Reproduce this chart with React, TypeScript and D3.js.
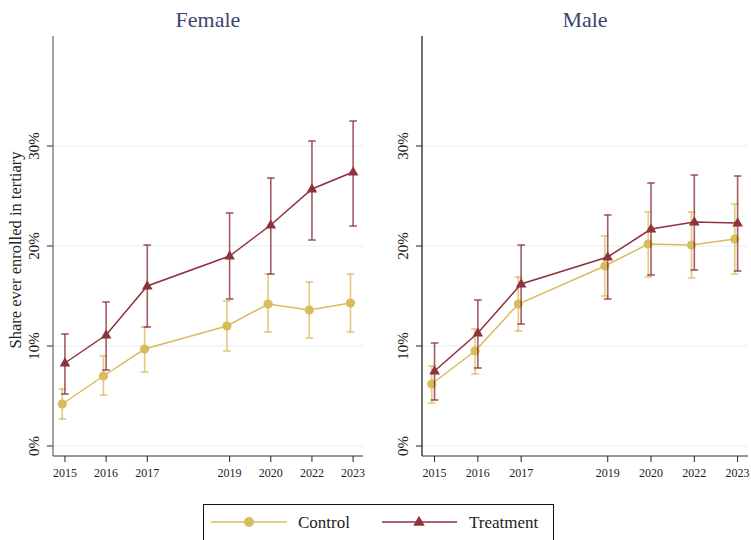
import React from "react";
import * as d3 from "d3";

const years = ["2015", "2016", "2017", "2019", "2020", "2022", "2023"];
const yearPos = [0, 1, 2, 4, 5, 6, 7];
const yTicks = [0, 10, 20, 30];

const femaleControl = [4.2, 7.0, 9.7, 12.0, 14.2, 13.6, 14.3];
const femaleControlLo = [2.7, 5.1, 7.4, 9.5, 11.4, 10.8, 11.4];
const femaleControlHi = [5.7, 9.0, 11.9, 14.5, 17.2, 16.4, 17.2];
const femaleTreat = [8.3, 11.1, 16.0, 19.0, 22.1, 25.7, 27.4];
const femaleTreatLo = [5.2, 7.6, 11.9, 14.7, 17.2, 20.6, 22.0];
const femaleTreatHi = [11.2, 14.4, 20.1, 23.3, 26.8, 30.5, 32.5];

const maleControl = [6.2, 9.5, 14.2, 18.0, 20.2, 20.1, 20.7];
const maleControlLo = [4.3, 7.2, 11.5, 15.0, 16.9, 16.8, 17.2];
const maleControlHi = [8.0, 11.7, 16.9, 21.0, 23.4, 23.4, 24.2];
const maleTreat = [7.5, 11.3, 16.2, 18.9, 21.7, 22.4, 22.3];
const maleTreatLo = [4.6, 7.8, 12.2, 14.7, 17.1, 17.6, 17.5];
const maleTreatHi = [10.3, 14.6, 20.1, 23.1, 26.3, 27.1, 27.0];

const CTRL = "#d8bd5c";
const TREAT = "#8e323b";
const FONT = "'Liberation Serif', 'DejaVu Serif', serif";

type Series = { mean: number[]; lo: number[]; hi: number[]; color: string; shape: "circle" | "triangle"; dx: number };

function Marker({ x, y, shape, color, r = 4.6 }: { x: number; y: number; shape: string; color: string; r?: number }) {
  if (shape === "circle") return <circle cx={x} cy={y} r={r} fill={color} />;
  const s = r * 2.3;
  const h = s * 0.866;
  const p = `${x},${y - h * 0.62} ${x - s / 2},${y + h * 0.38} ${x + s / 2},${y + h * 0.38}`;
  return <polygon points={p} fill={color} />;
}

function Panel({ title, x0, x1, series, axisColor }: { title: string; x0: number; x1: number; series: Series[]; axisColor: string }) {
  const x = d3.scaleLinear().domain([-0.29, 7.24]).range([x0, x1]);
  const y = d3.scaleLinear().domain([-1, 41]).range([456, 36]);
  const line = d3.line<number>();
  return (
    <g>
      <text x={(x0 + x1) / 2} y={27} textAnchor="middle" fontFamily={FONT} fontSize={22} fill="#3a4670">
        {title}
      </text>
      {yTicks.map((t) => (
        <g key={t}>
          <line x1={x0} x2={x1} y1={y(t)} y2={y(t)} stroke="#e4edf1" strokeWidth={1} />
          <line x1={x0 - 6} x2={x0} y1={y(t)} y2={y(t)} stroke="#222" strokeWidth={1} />
          <text
            transform={`translate(${x0 - 14},${y(t)}) rotate(-90)`}
            textAnchor="middle"
            fontFamily={FONT}
            fontSize={15}
            fill="#222"
          >
            {t}%
          </text>
        </g>
      ))}
      <line x1={x0} x2={x0} y1={y(41)} y2={y(-1)} stroke={axisColor} strokeWidth={1.2} />
      <line x1={x0} x2={x1} y1={y(-1)} y2={y(-1)} stroke="#333" strokeWidth={1.2} />
      {years.map((yr, i) => (
        <g key={yr}>
          <line x1={x(yearPos[i])} x2={x(yearPos[i])} y1={y(-1)} y2={y(-1) + 6} stroke="#222" strokeWidth={1} />
          <text x={x(yearPos[i])} y={477} textAnchor="middle" fontFamily={FONT} fontSize={12} fill="#222">
            {yr}
          </text>
        </g>
      ))}
      {series.map((s, si) => {
        const pts = s.mean.map((m, i) => [x(yearPos[i] + s.dx), y(m)] as [number, number]);
        return (
          <g key={si}>
            {s.mean.map((_, i) => {
              const px = x(yearPos[i] + s.dx);
              return (
                <g key={i} stroke={s.color} strokeWidth={1.6} strokeOpacity={0.8}>
                  <line x1={px} x2={px} y1={y(s.lo[i])} y2={y(s.hi[i])} />
                  <line x1={px - 3.8} x2={px + 3.8} y1={y(s.lo[i])} y2={y(s.lo[i])} />
                  <line x1={px - 3.8} x2={px + 3.8} y1={y(s.hi[i])} y2={y(s.hi[i])} />
                </g>
              );
            })}
            <path d={line(pts as any) || ""} fill="none" stroke={s.color} strokeWidth={1.5} />
            {pts.map((p, i) => (
              <Marker key={i} x={p[0]} y={p[1]} shape={s.shape} color={s.color} />
            ))}
          </g>
        );
      })}
    </g>
  );
}

export default function App() {
  const femaleSeries: Series[] = [
    { mean: femaleControl, lo: femaleControlLo, hi: femaleControlHi, color: CTRL, shape: "circle", dx: -0.065 },
    { mean: femaleTreat, lo: femaleTreatLo, hi: femaleTreatHi, color: TREAT, shape: "triangle", dx: 0 },
  ];
  const maleSeries: Series[] = [
    { mean: maleControl, lo: maleControlLo, hi: maleControlHi, color: CTRL, shape: "circle", dx: -0.065 },
    { mean: maleTreat, lo: maleTreatLo, hi: maleTreatHi, color: TREAT, shape: "triangle", dx: 0 },
  ];
  return (
    <svg width={751} height={540} style={{ position: "absolute", left: 0, top: 0, background: "#fff" }}>
      <rect x={0} y={0} width={751} height={540} fill="#fff" />
      <text
        transform={`translate(21,250) rotate(-90)`}
        textAnchor="middle"
        fontFamily={FONT}
        fontSize={16.5}
        fill="#222"
      >
        Share ever enrolled in tertiary
      </text>
      <Panel title="Female" x0={53} x1={363} series={femaleSeries} axisColor="#666" />
      <Panel title="Male" x0={422} x1={748} series={maleSeries} axisColor="#111" />
      <g>
        <rect x={203.5} y={504.5} width={350} height={50} fill="none" stroke="#111" strokeWidth={1} />
        <line x1={211} x2={287} y1={522} y2={522} stroke={CTRL} strokeWidth={1.5} />
        <Marker x={249} y={522} shape="circle" color={CTRL} r={5} />
        <text x={298} y={527.5} fontFamily={FONT} fontSize={17} fill="#222">Control</text>
        <line x1={382} x2={457} y1={522} y2={522} stroke={TREAT} strokeWidth={1.5} />
        <Marker x={419} y={522} shape="triangle" color={TREAT} r={5} />
        <text x={469} y={527.5} fontFamily={FONT} fontSize={17} fill="#222">Treatment</text>
      </g>
    </svg>
  );
}
